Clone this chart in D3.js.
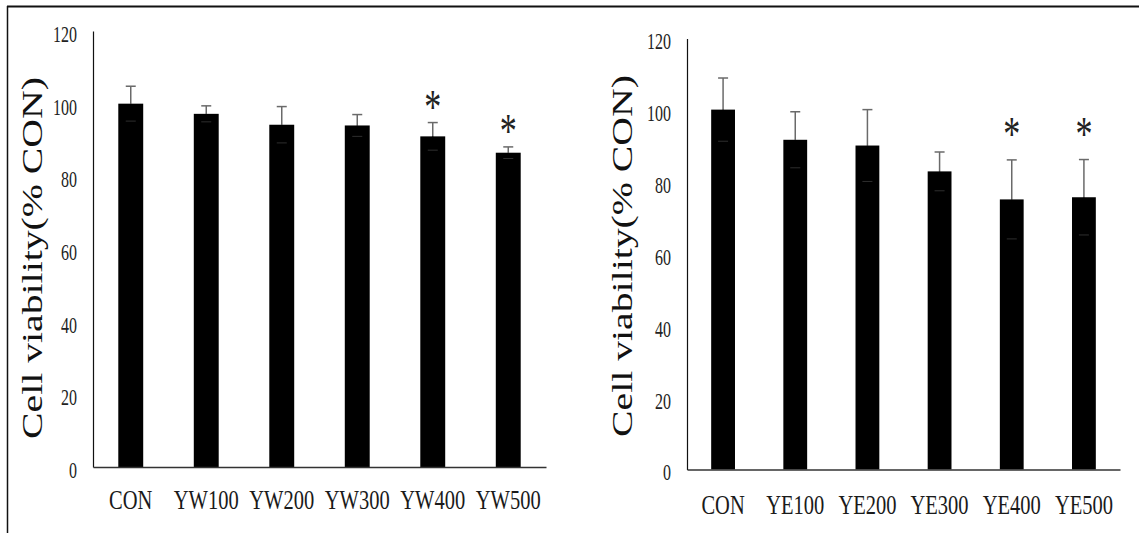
<!DOCTYPE html>
<html>
<head>
<meta charset="utf-8">
<script src="https://cdn.jsdelivr.net/npm/d3@7"></script>
<style>
  html, body { margin: 0; padding: 0; background: #fff; }
  svg { display: block; }
  text { font-family: "Liberation Serif", "Times New Roman", serif; }
</style>
</head>
<body>
<svg id="chart" width="1139" height="533"></svg>
<script>
// Cell viability (% of control) for the water (YW) and ethanol (YE) extracts
const categoriesYW = ["CON", "YW100", "YW200", "YW300", "YW400", "YW500"];
const viabilityYW  = [100.0, 97.2, 94.2, 94.0, 91.0, 86.5];
const errorYW      = [4.8, 2.2, 5.0, 3.0, 3.8, 1.6];
const significantYW = [false, false, false, false, true, true];

const categoriesYE = ["CON", "YE100", "YE200", "YE300", "YE400", "YE500"];
const viabilityYE  = [100.2, 91.8, 90.2, 83.0, 75.2, 75.8];
const errorYE      = [8.8, 7.8, 10.0, 5.4, 11.0, 10.5];
const significantYE = [false, false, false, false, true, true];

const yTicks = [0, 20, 40, 60, 80, 100, 120];
const yTitle = "Cell viability(%  CON)";

const svg = d3.select("#chart");

// outer frame: only top and left rules
svg.append("line").attr("x1", 7).attr("x2", 1139).attr("y1", 6.5).attr("y2", 6.5)
  .attr("stroke", "#111").attr("stroke-width", 2);
svg.append("line").attr("x1", 7.5).attr("x2", 7.5).attr("y1", 6).attr("y2", 533)
  .attr("stroke", "#111").attr("stroke-width", 1.5);

const panels = [
  { cats: categoriesYW, vals: viabilityYW, errs: errorYW, sig: significantYW,
    x0: 93, x1: 546, yTop: 31, yBase: 467, titleX: 32, titleY: 258, labelY: 500, starGap: 29 },
  { cats: categoriesYE, vals: viabilityYE, errs: errorYE, sig: significantYE,
    x0: 687, x1: 1120, yTop: 38.5, yBase: 469.5, titleX: 622, titleY: 256, labelY: 505, starGap: 39 }
];

const stretch = 1.4; // tall, narrow lettering

panels.forEach(p => {
  const x = d3.scaleBand().domain(p.cats).range([p.x0, p.x1]).paddingInner(0.67).paddingOuter(0.335);
  const y = d3.scaleLinear().domain([0, 120]).range([p.yBase, p.yTop]);
  const g = svg.append("g");
  const cx = i => x(p.cats[i]) + x.bandwidth() / 2;

  // bars
  g.selectAll("rect.bar").data(p.vals).join("rect")
    .attr("class", "bar")
    .attr("x", (d, i) => x(p.cats[i]))
    .attr("width", x.bandwidth())
    .attr("y", d => y(d))
    .attr("height", d => y(0) - y(d))
    .attr("fill", "#000");

  // error bars: upper half in grey; the lower half falls on the black bar,
  // where only its cap shows faintly
  const capW = 5;
  const eb = g.selectAll("g.err").data(p.vals).join("g").attr("class", "err")
    .attr("stroke-width", 1.5);
  eb.append("line")
    .attr("stroke", "#6a6a6a")
    .attr("x1", (d, i) => cx(i)).attr("x2", (d, i) => cx(i))
    .attr("y1", d => y(d))
    .attr("y2", (d, i) => y(d + p.errs[i]));
  eb.append("line")
    .attr("stroke", "#6a6a6a")
    .attr("x1", (d, i) => cx(i) - capW).attr("x2", (d, i) => cx(i) + capW)
    .attr("y1", (d, i) => y(d + p.errs[i])).attr("y2", (d, i) => y(d + p.errs[i]));
  eb.append("line")
    .attr("stroke", "#000")
    .attr("x1", (d, i) => cx(i)).attr("x2", (d, i) => cx(i))
    .attr("y1", d => y(d))
    .attr("y2", (d, i) => y(d - p.errs[i]));
  eb.append("line")
    .attr("stroke", "#2e2e2e")
    .attr("stroke-width", 1)
    .attr("x1", (d, i) => cx(i) - capW).attr("x2", (d, i) => cx(i) + capW)
    .attr("y1", (d, i) => y(d - p.errs[i])).attr("y2", (d, i) => y(d - p.errs[i]));

  // significance markers
  p.vals.forEach((v, i) => {
    if (!p.sig[i]) return;
    g.append("g")
      .attr("transform", `translate(${cx(i)},${y(v + p.errs[i]) - p.starGap}) scale(1,${stretch})`)
      .append("text")
      .attr("text-anchor", "middle")
      .attr("dy", "0.62em")
      .attr("font-size", 34)
      .attr("fill", "#222")
      .text("*");
  });

  // y axis: line and labels, no tick marks
  const yAxis = g.append("g").attr("transform", `translate(${p.x0},0)`)
    .call(d3.axisLeft(y).tickValues(yTicks).tickSize(0).tickPadding(16).tickFormat(d3.format("d")));
  yAxis.select(".domain").attr("stroke", "#111").attr("stroke-width", 1.2);
  yAxis.selectAll(".tick text")
    .attr("font-family", "Liberation Serif, serif")
    .attr("font-size", 16)
    .attr("fill", "#222")
    .attr("dy", "0.45em")
    .attr("transform", `scale(1,1.45)`);

  // baseline
  const xAxis = g.append("g").attr("transform", `translate(0,${p.yBase})`)
    .call(d3.axisBottom(x).tickSize(0).tickFormat(""));
  xAxis.select(".domain").attr("stroke", "#333").attr("stroke-width", 1.5);

  // category labels
  p.cats.forEach(c => {
    g.append("g")
      .attr("transform", `translate(${x(c) + x.bandwidth() / 2},${p.labelY}) scale(1,1.3)`)
      .append("text")
      .attr("text-anchor", "middle")
      .attr("dy", "0.34em")
      .attr("font-size", 20.5)
      .attr("fill", "#1a1a1a")
      .text(c);
  });

  // y axis title
  g.append("text")
    .attr("transform", `translate(${p.titleX},${p.titleY}) rotate(-90)`)
    .attr("text-anchor", "middle")
    .attr("dy", "0.34em")
    .attr("font-size", 29)
    .attr("textLength", 362)
    .attr("lengthAdjust", "spacingAndGlyphs")
    .attr("fill", "#111")
    .text(yTitle);
});
</script>
</body>
</html>
